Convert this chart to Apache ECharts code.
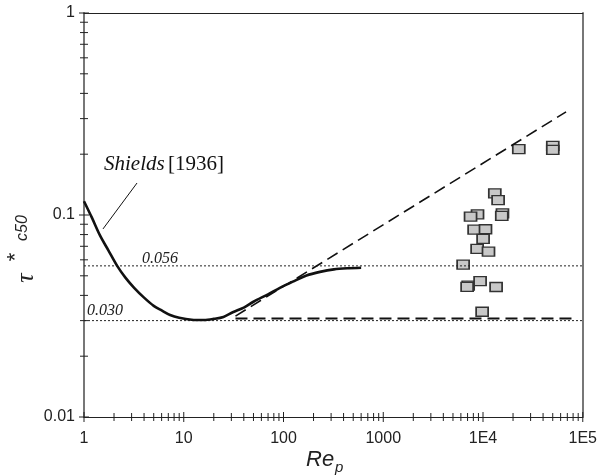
<!DOCTYPE html>
<html>
<head>
<meta charset="utf-8">
<script src="https://cdn.jsdelivr.net/npm/echarts@6/dist/echarts.min.js"></script>
<style>html,body{margin:0;padding:0;background:#fff}#c{width:600px;height:476px}</style>
</head>
<body>
<div id="c"></div>
<script>
// ---- data ----
const xTickValues = [1, 10, 100, 1000, 10000, 100000];
const xTickLabels = ['1', '10', '100', '1000', '1E4', '1E5'];
const yTickValues = [0.01, 0.1, 1];
const yTickLabels = ['0.01', '0.1', '1'];
const minorMult = [2, 3, 4, 5, 6, 7, 8, 9];

const shieldsRe  = [1, 1.2, 1.45, 1.75, 2.15, 2.6, 3.2, 4, 5, 6, 7.3, 9, 12, 16, 20, 25, 31, 40, 50, 70, 92, 124, 170, 232, 320, 450, 600];
const shieldsTau = [0.117, 0.097, 0.079, 0.067, 0.056, 0.049, 0.0435, 0.039, 0.0355, 0.0337, 0.032, 0.0310, 0.0303, 0.0302, 0.0306, 0.0313, 0.033, 0.0348, 0.0372, 0.0405, 0.0436, 0.0468, 0.0502, 0.0523, 0.0538, 0.0545, 0.0548];

const upperDashRe  = [33, 68000];
const upperDashTau = [0.0316, 0.324];
const lowerDashRe  = [33, 87000];
const lowerDashTau = [0.0307, 0.0307];

const ref056 = 0.056;
const ref030 = 0.030;

const leaderRe  = [3.40, 1.55];
const leaderTau = [0.144, 0.0853];

const obsRe  = [13130, 14170, 8810, 7500, 15670, 15420, 8145, 10590, 10020, 8730, 11350, 6320, 7100, 6930, 9350, 13530, 9800, 22840, 50060, 50060];
const obsTau = [0.128, 0.1186, 0.1008, 0.0981, 0.1019, 0.0989, 0.0846, 0.0850, 0.0761, 0.0679, 0.0658, 0.0568, 0.0447, 0.0441, 0.0471, 0.0440, 0.0332, 0.212, 0.2197, 0.210];

// ---- build ----
const zip = (a, b) => a.map((v, i) => [v, b[i]]);
const xTicks = [];
xTickValues.forEach((d, i) => {
  xTicks.push([d, 0.01, 1]);
  if (i < xTickValues.length - 1) minorMult.forEach(m => xTicks.push([d * m, 0.01, 0]));
});
const yTicks = [];
yTickValues.forEach((d, i) => {
  yTicks.push([1, d, 1]);
  if (i < yTickValues.length - 1) minorMult.forEach(m => yTicks.push([1, d * m, 0]));
});
const labelIdx = (vals, v) => {
  let best = 0, bd = Infinity;
  vals.forEach((t, i) => { const d = Math.abs(Math.log10(t) - Math.log10(v)); if (d < bd) { bd = d; best = i; } });
  return best;
};

const chart = echarts.init(document.getElementById('c'), null, {renderer: 'canvas'});
const serif = '"Liberation Serif", "Times New Roman", serif';
const sans = '"Liberation Sans", Arial, sans-serif';

chart.setOption({
  animation: false,
  grid: {left: 84, right: 17, top: 13, bottom: 59},
  xAxis: [{
    type: 'log', logBase: 10, min: 1, max: 100000, position: 'bottom',
    axisLine: {show: true, lineStyle: {color: '#222', width: 1}},
    axisTick: {show: false}, splitLine: {show: false},
    axisLabel: {margin: 14, fontSize: 16, fontFamily: sans, color: '#222',
      formatter: v => xTickLabels[labelIdx(xTickValues, v)]}
  }, {
    type: 'log', logBase: 10, min: 1, max: 100000, position: 'top',
    axisLine: {show: true, lineStyle: {color: '#222', width: 1}},
    axisTick: {show: false}, axisLabel: {show: false}, splitLine: {show: false}
  }],
  yAxis: [{
    type: 'log', logBase: 10, min: 0.01, max: 1, position: 'left',
    axisLine: {show: true, lineStyle: {color: '#777', width: 2}},
    axisTick: {show: false}, splitLine: {show: false},
    axisLabel: {margin: 9, fontSize: 16, fontFamily: sans, color: '#222',
      formatter: v => yTickLabels[labelIdx(yTickValues, v)]}
  }, {
    type: 'log', logBase: 10, min: 0.01, max: 1, position: 'right',
    axisLine: {show: true, lineStyle: {color: '#777', width: 2}},
    axisTick: {show: false}, axisLabel: {show: false}, splitLine: {show: false}
  }],
  series: [
    {type: 'line', data: [[1, ref056], [100000, ref056]], symbol: 'none', silent: true,
     lineStyle: {color: '#222', width: 1, type: [2, 2]}},
    {type: 'line', data: [[1, ref030], [100000, ref030]], symbol: 'none', silent: true,
     lineStyle: {color: '#222', width: 1, type: [2, 2]}},
    {type: 'line', data: zip(lowerDashRe, lowerDashTau), symbol: 'none',
     lineStyle: {color: '#111', width: 2, type: [12, 6]}},
    {type: 'line', data: zip(upperDashRe, upperDashTau), symbol: 'none',
     lineStyle: {color: '#111', width: 1.6, type: [12, 6]}},
    {type: 'line', data: zip(shieldsRe, shieldsTau), symbol: 'none', smooth: 0.3,
     lineStyle: {color: '#111', width: 2.6}},
    {type: 'line', data: zip(leaderRe, leaderTau), symbol: 'none',
     lineStyle: {color: '#111', width: 1}},
    {type: 'scatter', data: zip(obsRe, obsTau), symbol: 'rect', symbolSize: [12, 9],
     itemStyle: {color: '#c8c8c8', borderColor: '#333', borderWidth: 1.5, opacity: 1}},
    {type: 'custom', data: xTicks, encode: {x: 0, y: 1}, clip: false, z: 5,
     renderItem: (params, api) => {
       const p = api.coord([api.value(0), api.value(1)]);
       const h = api.value(2) ? 5 : 4;
       return {type: 'line', shape: {x1: p[0], y1: p[1] - h, x2: p[0], y2: p[1] + h},
               style: {stroke: '#222', lineWidth: 1}};
     }},
    {type: 'custom', data: yTicks, encode: {x: 0, y: 1}, clip: false, z: 5,
     renderItem: (params, api) => {
       const p = api.coord([api.value(0), api.value(1)]);
       const h = api.value(2) ? 5 : 4;
       return {type: 'line', shape: {x1: p[0] - h, y1: p[1], x2: p[0] + h, y2: p[1]},
               style: {stroke: '#222', lineWidth: 1}};
     }}
  ],
  graphic: [
    {type: 'text', left: 104, top: 154, style: {
      text: '{i|Shields} {n|[1936]}',
      rich: {i: {fontFamily: serif, fontStyle: 'italic', fontSize: 21, fill: '#111'},
             n: {fontFamily: serif, fontSize: 21, fill: '#111'}}}},
    {type: 'text', left: 142, top: 251, style: {text: '0.056', fontFamily: serif, fontStyle: 'italic', fontSize: 16, fill: '#222'}},
    {type: 'text', left: 87, top: 303, style: {text: '0.030', fontFamily: serif, fontStyle: 'italic', fontSize: 16, fill: '#222'}},
    {type: 'text', x: 306, y: 449, style: {text: 'Re', fontFamily: sans, fontStyle: 'italic', fontSize: 22, fill: '#222'}},
    {type: 'text', x: 335, y: 460, style: {text: 'p', fontFamily: sans, fontStyle: 'italic', fontSize: 15, fill: '#222'}},
    {type: 'text', x: 26, y: 278, rotation: Math.PI / 2, style: {text: 'τ', fontFamily: serif, fontStyle: 'italic', fontSize: 26, fill: '#222', align: 'center', verticalAlign: 'middle'}},
    {type: 'text', x: 16, y: 257, rotation: Math.PI / 2, style: {text: '*', fontFamily: sans, fontSize: 22, fill: '#222', align: 'center', verticalAlign: 'middle'}},
    {type: 'text', x: 23, y: 228, rotation: Math.PI / 2, style: {text: 'c50', fontFamily: sans, fontStyle: 'italic', fontSize: 16, fill: '#222', align: 'center', verticalAlign: 'middle'}}
  ]
});
</script>
</body>
</html>
